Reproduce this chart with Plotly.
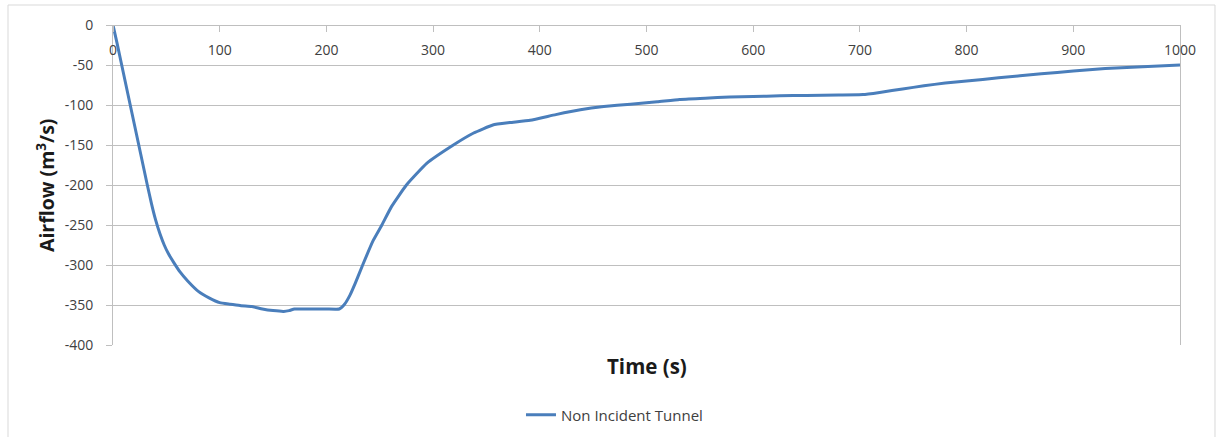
import plotly.graph_objects as go

# Airflow in the non incident tunnel over time
time_s = [0, 4, 8, 12, 16, 20, 24, 28, 32, 36, 40, 44, 48, 52, 57, 63, 70, 80,
          90, 100, 110, 120, 130, 140, 150, 160, 165, 170, 180, 200, 212, 217, 222, 227,
          234, 244, 252, 261, 275, 294, 319, 338, 356, 372, 391, 415, 438, 460, 485,
          510, 531, 555, 578, 600, 625, 650, 680, 703, 720, 740, 760, 780, 800, 830,
          870, 900, 930, 960, 1000]
airflow = [0, -24, -49, -74, -99, -124, -149, -174, -199, -223, -244, -261, -275, -286,
           -297, -309, -320, -333, -341, -347, -349, -351, -352, -355, -357, -358, -357,
           -355, -355, -355, -355, -349, -338, -323, -300, -269, -250, -227, -200, -173,
           -150, -135, -125, -122, -119, -112, -106, -102, -99, -96, -93, -91.5, -90,
           -89.5, -88.5, -88, -87.5, -87, -84, -80, -76, -72.5, -70, -66, -61, -57.5,
           -54.5, -52.5, -50]

x_ticks = [0, 100, 200, 300, 400, 500, 600, 700, 800, 900, 1000]
y_ticks = [0, -50, -100, -150, -200, -250, -300, -350, -400]
y_tick_text = ["0", "-50", "-100", "-150", "-200", "-250", "-300", "-350", "-400"]

FONT = "Open Sans"
GRID = "#bfbfbf"
TICK_FONT = dict(family=FONT, size=14, color="#404040")

fig = go.Figure()
fig.add_trace(go.Scatter(
    x=time_s, y=airflow, mode="lines", name="Non Incident Tunnel",
    line=dict(color="#4a7ebb", width=3, shape="spline", smoothing=0.4),
))

fig.update_layout(
    width=1219, height=437,
    margin=dict(l=113, r=39, t=25, b=92, autoexpand=False),
    paper_bgcolor="white", plot_bgcolor="white",
    font=dict(family=FONT, size=14, color="#404040"),
    showlegend=True,
    legend=dict(orientation="h", x=0.47, xanchor="center", y=-0.219, yanchor="middle",
                font=dict(family=FONT, size=15, color="#404040")),
    xaxis=dict(
        range=[0, 1000], tickvals=x_ticks, side="bottom",
        anchor="free", position=1.0,
        ticks="outside", ticklen=6, tickcolor=GRID, tickfont=TICK_FONT,
        ticklabelstandoff=6,
        showline=True, linecolor=GRID, linewidth=1,
        showgrid=False, zeroline=False,
    ),
    yaxis=dict(
        range=[-400, 0], tickvals=y_ticks, ticktext=y_tick_text,
        ticks="outside", ticklen=6, tickcolor=GRID, tickfont=TICK_FONT,
        ticklabelstandoff=10,
        showline=True, linecolor=GRID, linewidth=1, mirror=True,
        showgrid=True, gridcolor=GRID, gridwidth=1, zeroline=False,
    ),
    annotations=[
        dict(text="<b>Time (s)</b>", xref="paper", yref="paper", x=0.5, y=-0.066,
             xanchor="center", yanchor="middle", showarrow=False,
             font=dict(family=FONT, size=20.5, color="#1a1a1a")),
        dict(text="<b>Airflow (m<sup>3</sup>/s)</b>", xref="paper", yref="paper",
             x=-0.0637, y=0.5, xanchor="center", yanchor="middle", textangle=-90,
             showarrow=False, font=dict(family=FONT, size=19.5, color="#1a1a1a")),
    ],
    shapes=[
        dict(type="rect", xref="paper", yref="paper", x0=-0.0984, x1=1.0328,
             y0=-0.3, y1=1.0625, line=dict(color="#d9d9d9", width=1),
             fillcolor="rgba(0,0,0,0)", layer="below"),
    ],
)

fig.write_html("out.html")
